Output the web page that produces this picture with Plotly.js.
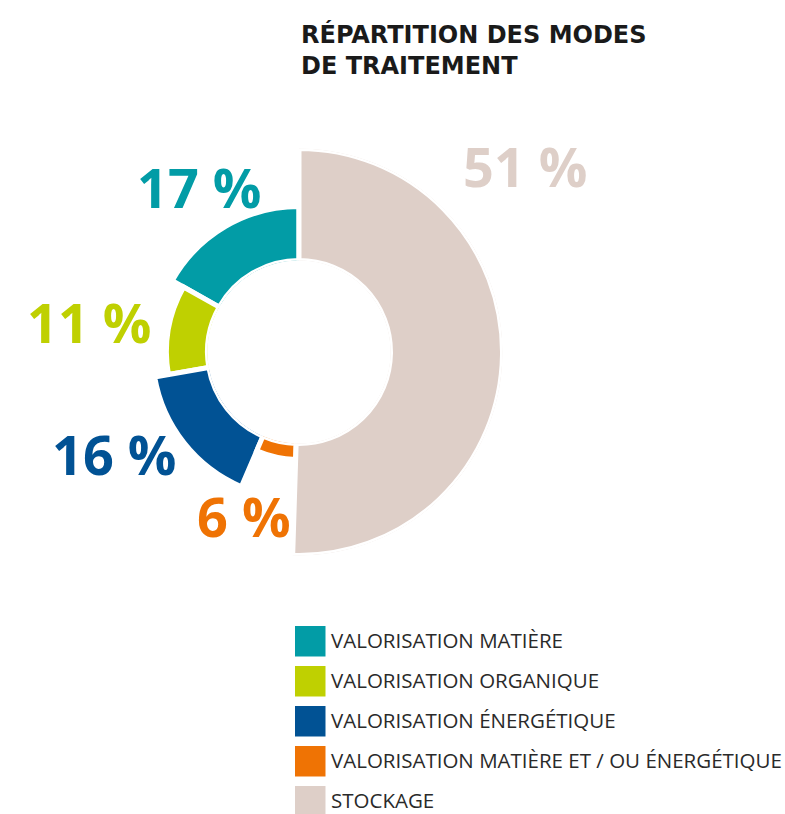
<!DOCTYPE html>
<html><head><meta charset="utf-8">
<script src="https://cdn.plot.ly/plotly-3.0.1.min.js"></script>
<style>html,body{margin:0;padding:0;background:#fff;overflow:hidden;} #chart{width:785px;height:814px;}</style>
</head><body><div id="chart"></div>
<script>
// ---- data ----
const categories = ["VALORISATION MATIÈRE", "VALORISATION ORGANIQUE", "VALORISATION ÉNERGÉTIQUE", "VALORISATION MATIÈRE ET / OU ÉNERGÉTIQUE", "STOCKAGE"];
const shares = [17, 11, 16, 6, 51];
const valueLabels = ["17 %", "11 %", "16 %", "6 %", "51 %"];
const chartTitle = "RÉPARTITION DES MODES<br>DE TRAITEMENT";

// ---- style ----
const W = 785, H = 814;
const colors = ["#029ca6", "#bfd001", "#015294", "#ef7304", "#decfc8"];
const ringDepth = [0.482, 0.366, 0.491, 0.143, 1]; // visual thickness of each ring segment
const cx = 299, cy = 352, R = 203.5, holePx = 91.5;
const labelPos = [[199, 187], [89, 322], [114, 454], [244, 516], [525, 166]];
const legendTop = 626, legendStep = 40, sw = 30.5, legendX = 295;
const FONT = "Open Sans, Noto Sans, sans-serif";
const TITLE_FONT = "DejaVu Sans, sans-serif";

const px = x => x / W, py = y => 1 - y / H;

// angles from shares
const total = shares.reduce((a, b) => a + b, 0);
let cum = 0;
const thetas = [], widths = [];
shares.forEach(v => {
  const w = v / total * 360;
  thetas.push(cum + w / 2);
  widths.push(w);
  cum += w;
});

const trace = {
  type: "barpolar",
  r: ringDepth,
  theta: thetas,
  width: widths,
  text: categories,
  marker: { color: colors, line: { color: "#ffffff", width: 5 } },
  hoverinfo: "text",
  showlegend: false
};

const annotations = [];
const shapes = [];

annotations.push({
  text: "<b>" + chartTitle + "</b>",
  xref: "paper", yref: "paper", x: px(299), y: py(18),
  xanchor: "left", yanchor: "top", align: "left", showarrow: false,
  font: { family: TITLE_FONT, size: 24, color: "#1a1a1a" }
});

valueLabels.forEach((t, i) => {
  annotations.push({
    text: "<b>" + t + "</b>",
    xref: "paper", yref: "paper", x: px(labelPos[i][0]), y: py(labelPos[i][1]),
    xanchor: "center", yanchor: "middle", showarrow: false,
    font: { family: FONT, size: 54, color: colors[i] }
  });
});

categories.forEach((c, i) => {
  const top = legendTop + i * legendStep;
  shapes.push({
    type: "rect", xref: "paper", yref: "paper",
    x0: px(legendX), x1: px(legendX + sw), y0: py(top + sw), y1: py(top),
    fillcolor: colors[i], line: { width: 0 }
  });
  annotations.push({
    text: c, xref: "paper", yref: "paper",
    x: px(legendX + sw + 4), y: py(top + sw / 2 - 1),
    xanchor: "left", yanchor: "middle", showarrow: false, borderpad: 0,
    font: { family: FONT, size: 20.5, color: "#2a2a2a" }
  });
});

const layout = {
  width: W, height: H,
  margin: { l: 0, r: 0, t: 0, b: 0 },
  paper_bgcolor: "#ffffff",
  showlegend: false,
  polar: {
    domain: { x: [px(cx - R), px(cx + R)], y: [py(cy + R), py(cy - R)] },
    hole: holePx / R,
    bgcolor: "rgba(0,0,0,0)",
    radialaxis: { visible: false, range: [0, 1] },
    angularaxis: { visible: false, rotation: 90, direction: "counterclockwise" }
  },
  annotations: annotations,
  shapes: shapes
};

Plotly.newPlot("chart", [trace], layout, { displayModeBar: false, staticPlot: true });
</script>
</body></html>
